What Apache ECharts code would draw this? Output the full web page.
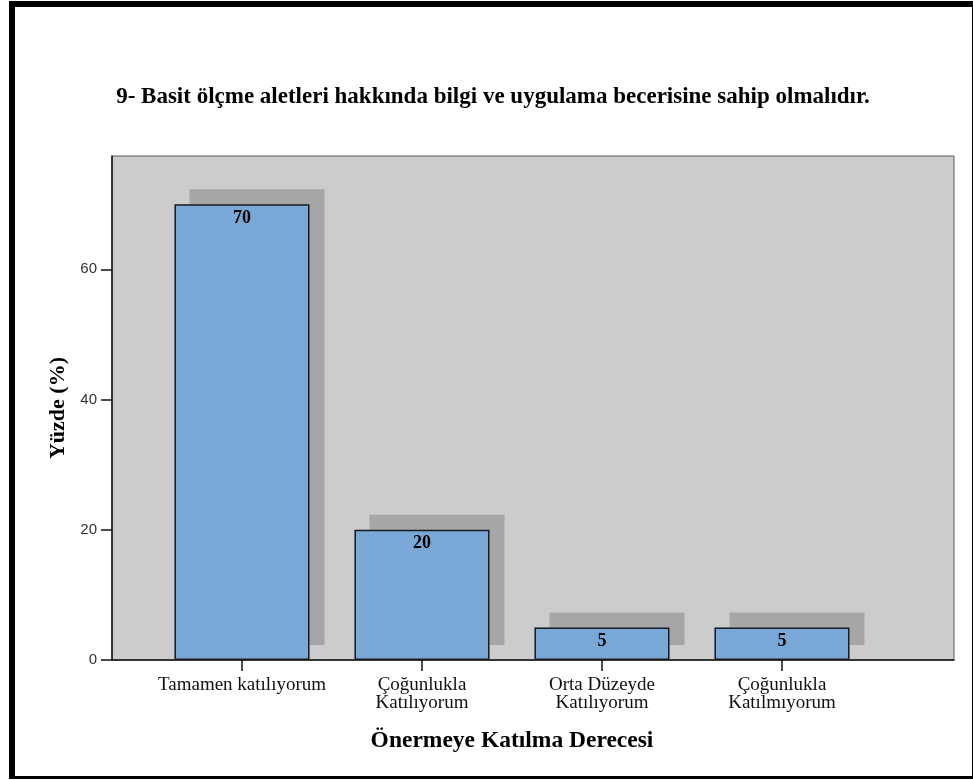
<!DOCTYPE html>
<html>
<head>
<meta charset="utf-8">
<script src="https://cdn.jsdelivr.net/npm/echarts@6/dist/echarts.min.js"></script>
<style>
  html, body { margin: 0; padding: 0; background: #fff; overflow: hidden; }
  #chart { position: absolute; left: 0; top: 0; width: 973px; height: 780px; }
  #frame {
    position: absolute; left: 9px; top: 1px; width: 957px; height: 769px;
    border-style: solid; border-color: #000;
    border-width: 6px 3px 3px 6px;
    pointer-events: none;
  }
</style>
</head>
<body>
<div id="chart"></div>
<div id="frame"></div>
<script>
// Survey item 9: share of answers per agreement level (%)
const chartTitle = '9- Basit ölçme aletleri hakkında bilgi ve uygulama becerisine sahip olmalıdır.';
const categories = [
  'Tamamen katılıyorum',
  'Çoğunlukla\nKatılıyorum',
  'Orta Düzeyde\nKatılıyorum',
  'Çoğunlukla\nKatılmıyorum'
];
const percentages = [70, 20, 5, 5];
const yTicks = [0, 20, 40, 60];
const yMax = 77.4;
const xAxisTitle = 'Önermeye Katılma Derecesi';
const yAxisTitle = 'Yüzde (%)';

const serif = '"Liberation Serif", "Times New Roman", serif';

const chart = echarts.init(document.getElementById('chart'), null, { renderer: 'canvas' });

chart.setOption({
  animation: false,
  backgroundColor: '#ffffff',
  title: {
    text: chartTitle,
    left: 493,
    top: 86,
    textAlign: 'center',
    padding: 0,
    textStyle: { fontFamily: serif, fontWeight: 'bold', fontSize: 23, color: '#000' }
  },
  grid: [
    // gray plot panel carrying the value axis
    {
      left: 112, top: 156, width: 842, height: 504,
      show: true, backgroundColor: '#cccccc',
      borderColor: '#5a5a5a', borderWidth: 1
    },
    // inner band where the bars sit
    { left: 152, top: 156, width: 720, height: 504 }
  ],
  xAxis: [
    {
      gridIndex: 0, type: 'value', min: 0, max: 1,
      axisLine: { show: true, onZero: false, lineStyle: { color: '#111', width: 1.5 } },
      axisTick: { show: false }, axisLabel: { show: false }, splitLine: { show: false }
    },
    {
      gridIndex: 1, type: 'category', data: categories,
      axisLine: { show: false },
      axisTick: {
        show: true, alignWithLabel: true, length: 11,
        lineStyle: { color: '#111', width: 1.5 }
      },
      axisLabel: {
        interval: 0, margin: 16, fontFamily: serif, fontSize: 19,
        lineHeight: 18, color: '#111'
      },
      name: xAxisTitle,
      nameLocation: 'middle',
      nameGap: 69,
      nameTextStyle: { fontFamily: serif, fontWeight: 'bold', fontSize: 23.5, color: '#000' }
    }
  ],
  yAxis: [
    {
      gridIndex: 0, type: 'value', min: 0, max: yMax, interval: 20,
      axisLine: { show: true, lineStyle: { color: '#111', width: 1.5 } },
      axisTick: {
        show: true, length: 11, customValues: yTicks,
        lineStyle: { color: '#111', width: 1.5 }
      },
      axisLabel: {
        customValues: yTicks, margin: 15,
        fontFamily: '"Liberation Sans", Arial, sans-serif', fontSize: 15, color: '#333'
      },
      splitLine: { show: false },
      name: yAxisTitle,
      nameLocation: 'middle',
      nameGap: 41,
      nameRotate: 90,
      nameTextStyle: { fontFamily: serif, fontWeight: 'bold', fontSize: 22, color: '#000' }
    },
    {
      gridIndex: 1, type: 'value', min: 0, max: yMax, show: false
    }
  ],
  series: [
    // filled bars casting the offset drop shadow
    {
      type: 'bar',
      xAxisIndex: 1,
      yAxisIndex: 1,
      data: percentages,
      barWidth: 135,
      silent: true,
      itemStyle: {
        color: '#7aa8d6',
        shadowColor: '#a6a6a6',
        shadowBlur: 0,
        shadowOffsetX: 15,
        shadowOffsetY: -15
      },
      emphasis: { disabled: true }
    },
    // outlines and value labels drawn over the fills
    {
      type: 'bar',
      xAxisIndex: 1,
      yAxisIndex: 1,
      data: percentages,
      barWidth: 135,
      barGap: '-100%',
      silent: true,
      itemStyle: {
        color: 'rgba(0,0,0,0)',
        borderColor: '#1c1c1c',
        borderWidth: 1.5
      },
      label: {
        show: true,
        position: 'insideTop',
        distance: 5,
        fontFamily: serif,
        fontWeight: 'bold',
        fontSize: 18,
        color: '#000'
      },
      emphasis: { disabled: true }
    }
  ]
});
</script>
</body>
</html>
